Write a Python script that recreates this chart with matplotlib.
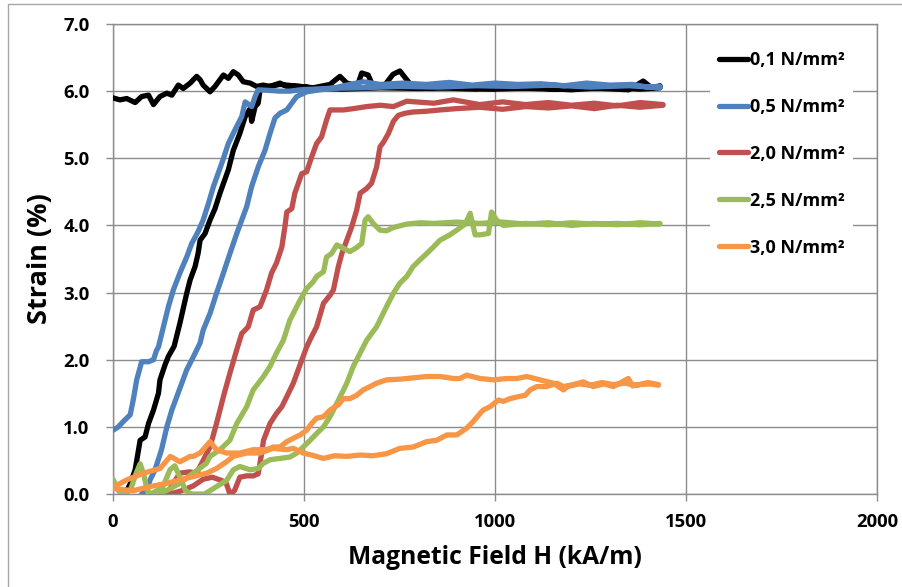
import matplotlib
matplotlib.use("Agg")
import matplotlib.pyplot as plt
from matplotlib.patches import Rectangle
from matplotlib.ticker import FormatStrFormatter

plt.rcParams['font.family'] = ['Open Sans', 'DejaVu Sans']
plt.rcParams['font.weight'] = 'bold'

# 0,1 N/mm² : rising branch, then return branch
h_01_up = [31, 45, 58, 71, 84, 93, 106, 119, 123, 136, 145, 160, 175, 193, 202, 215, 223, 228, 241, 254,
           267, 280, 302, 315, 332, 346, 359, 363, 372, 380, 385, 400, 437, 490, 524, 568, 594, 612, 640, 651,
           668, 681, 710, 733, 751, 769, 786, 850, 950, 1050, 1150, 1250, 1350, 1388, 1410, 1432]
s_01_up = [0.0, 0.15, 0.36, 0.80, 0.85, 1.05, 1.25, 1.50, 1.70, 1.92, 2.05, 2.20, 2.54, 2.99, 3.19, 3.39, 3.59, 3.78, 3.88, 4.08,
           4.25, 4.48, 4.83, 5.12, 5.37, 5.62, 5.74, 5.55, 5.77, 5.82, 6.02, 6.06, 6.10, 6.07, 6.05, 6.10, 6.22, 6.12, 6.08, 6.27,
           6.24, 6.07, 6.08, 6.25, 6.30, 6.17, 6.05, 6.05, 6.03, 6.05, 6.03, 6.05, 6.02, 6.15, 6.05, 6.08]
h_01_down = [1432, 1380, 1300, 1200, 1100, 1000, 900, 800, 700, 600, 520, 490, 455, 437, 411, 393, 376, 359, 341, 328,
             315, 302, 289, 267, 254, 236, 228, 219, 202, 184, 171, 154, 141, 123, 106, 93, 75, 58, 36, 18, 0]
s_01_down = [6.05, 6.03, 6.06, 6.02, 6.05, 6.03, 6.06, 6.04, 6.05, 6.03, 6.05, 6.07, 6.07, 6.12, 6.07, 6.09, 6.07, 6.12, 6.14, 6.24,
             6.29, 6.19, 6.24, 6.07, 5.99, 6.09, 6.17, 6.22, 6.12, 6.04, 6.09, 5.94, 5.97, 5.92, 5.80, 5.94, 5.92, 5.83, 5.89, 5.87, 5.90]

# 0,5 N/mm²
h_05_up = [75, 90, 97, 110, 127, 141, 154, 167, 180, 193, 210, 228, 236, 254, 271, 289, 306, 324, 337, 350,
           363, 380, 398, 411, 424, 437, 455, 468, 481, 507, 542, 580, 612, 655, 700, 760, 820, 880, 940, 1000,
           1060, 1120, 1180, 1240, 1300, 1360, 1400, 1432]
s_05_up = [0.0, 0.08, 0.21, 0.36, 0.66, 1.00, 1.25, 1.45, 1.65, 1.85, 2.04, 2.25, 2.44, 2.69, 2.99, 3.29, 3.58, 3.88, 4.08, 4.28,
           4.58, 4.87, 5.12, 5.37, 5.60, 5.67, 5.72, 5.82, 5.92, 5.99, 6.02, 6.05, 6.09, 6.14, 6.10, 6.12, 6.10, 6.13, 6.09, 6.12,
           6.10, 6.11, 6.08, 6.12, 6.09, 6.10, 6.06, 6.07]
h_05_down = [1432, 1350, 1250, 1150, 1050, 950, 850, 750, 650, 560, 490, 463, 437, 411, 380, 372, 363, 346, 337, 319,
             302, 285, 263, 250, 236, 223, 206, 193, 175, 158, 145, 132, 119, 114, 106, 93, 75, 62, 53, 45,
             27, 14, 0]
s_05_down = [6.05, 6.08, 6.06, 6.09, 6.07, 6.08, 6.06, 6.07, 6.05, 6.04, 6.02, 6.00, 6.00, 6.01, 6.02, 5.92, 5.77, 5.84, 5.62, 5.42,
             5.22, 4.93, 4.58, 4.33, 4.08, 3.91, 3.73, 3.53, 3.29, 3.04, 2.79, 2.49, 2.19, 2.14, 2.00, 1.97, 1.97, 1.70, 1.40, 1.18,
             1.08, 1.00, 0.95]

# 2,0 N/mm²
h_20_up = [150, 180, 210, 236, 260, 285, 297, 306, 318, 332, 350, 367, 380, 389, 394, 411, 428, 442, 455, 472,
           490, 507, 516, 533, 551, 568, 577, 590, 599, 612, 625, 638, 647, 664, 677, 690, 699, 708, 721, 734,
           747, 764, 786, 820, 856, 900, 960, 1020, 1080, 1140, 1200, 1260, 1320, 1380, 1440]
s_20_up = [0.0, 0.05, 0.12, 0.22, 0.25, 0.20, 0.15, 0.0, 0.05, 0.25, 0.27, 0.27, 0.30, 0.60, 0.80, 1.05, 1.20, 1.30, 1.45, 1.65,
           1.93, 2.19, 2.30, 2.49, 2.84, 2.96, 3.04, 3.39, 3.58, 3.78, 3.98, 4.23, 4.48, 4.55, 4.63, 4.87, 5.17, 5.24, 5.37, 5.55,
           5.64, 5.67, 5.69, 5.70, 5.72, 5.74, 5.76, 5.73, 5.77, 5.75, 5.78, 5.74, 5.79, 5.76, 5.79]
h_20_down = [1440, 1380, 1320, 1260, 1200, 1140, 1080, 1020, 960, 891, 840, 769, 734, 700, 664, 630, 603, 568, 559, 546,
             533, 520, 507, 494, 476, 468, 455, 450, 442, 428, 415, 402, 385, 367, 354, 337, 324, 306, 289, 271,
             254, 245, 236, 219, 200, 175, 158, 141, 120]
s_20_down = [5.80, 5.83, 5.78, 5.82, 5.79, 5.83, 5.80, 5.84, 5.80, 5.87, 5.82, 5.85, 5.77, 5.79, 5.77, 5.74, 5.72, 5.72, 5.57, 5.32,
             5.22, 5.02, 4.80, 4.77, 4.48, 4.25, 4.20, 3.98, 3.68, 3.44, 3.29, 3.04, 2.79, 2.74, 2.49, 2.39, 2.15, 1.80, 1.45, 1.05,
             0.70, 0.60, 0.50, 0.31, 0.33, 0.31, 0.16, 0.0, 0.0]

# 2,5 N/mm²
h_25_up = [0, 10, 20, 45, 60, 71, 80, 90, 100, 130, 149, 162, 175, 190, 205, 240, 271, 297, 315, 332,
           359, 380, 394, 411, 437, 463, 481, 498, 516, 533, 551, 568, 586, 599, 612, 629, 647, 664, 690, 716,
           734, 751, 769, 786, 804, 821, 839, 856, 882, 900, 922, 935, 948, 961, 983, 991, 1004, 1022, 1080, 1140,
           1200, 1260, 1320, 1380, 1432]
s_25_up = [0.22, 0.10, 0.0, 0.05, 0.30, 0.45, 0.30, 0.05, 0.0, 0.10, 0.36, 0.42, 0.25, 0.05, 0.0, 0.0, 0.11, 0.20, 0.36, 0.41,
           0.36, 0.38, 0.46, 0.51, 0.53, 0.55, 0.61, 0.70, 0.80, 0.90, 1.00, 1.15, 1.35, 1.50, 1.65, 1.90, 2.10, 2.29, 2.49, 2.79,
           2.99, 3.14, 3.24, 3.39, 3.49, 3.58, 3.68, 3.78, 3.86, 3.93, 4.02, 4.18, 3.86, 3.86, 3.88, 4.20, 4.08, 4.00, 4.03, 4.01,
           4.04, 4.02, 4.03, 4.01, 4.03]
h_25_down = [1432, 1380, 1320, 1260, 1200, 1140, 1080, 1020, 960, 900, 840, 804, 769, 734, 716, 699, 681, 668, 660, 651,
             635, 620, 603, 586, 572, 559, 551, 533, 524, 507, 490, 463, 446, 428, 411, 394, 367, 350, 324, 306,
             280, 254, 245, 210, 175, 140, 106]
s_25_down = [4.02, 4.04, 4.01, 4.03, 4.00, 4.04, 4.02, 4.05, 4.03, 4.05, 4.03, 4.04, 4.02, 3.97, 3.92, 3.93, 4.03, 4.13, 4.08, 3.73,
             3.66, 3.61, 3.66, 3.71, 3.58, 3.53, 3.31, 3.24, 3.16, 3.06, 2.89, 2.59, 2.29, 2.10, 1.90, 1.75, 1.55, 1.30, 1.05, 0.80,
             0.66, 0.56, 0.46, 0.31, 0.16, 0.05, 0.0]

# 3,0 N/mm²
h_30_up = [0, 53, 97, 141, 175, 210, 245, 271, 297, 315, 350, 385, 419, 455, 472, 498, 520, 551, 580, 612,
           647, 680, 716, 751, 786, 821, 847, 874, 900, 926, 943, 961, 969, 987, 1009, 1022, 1039, 1061, 1079, 1092,
           1109, 1135, 1162, 1179, 1205, 1231, 1257, 1285, 1310, 1349, 1360, 1380, 1406, 1428]
s_30_up = [0.08, 0.05, 0.11, 0.16, 0.21, 0.26, 0.31, 0.38, 0.48, 0.56, 0.61, 0.61, 0.68, 0.66, 0.68, 0.61, 0.58, 0.53, 0.57, 0.56,
           0.58, 0.57, 0.60, 0.68, 0.70, 0.78, 0.80, 0.88, 0.88, 0.98, 1.08, 1.20, 1.25, 1.30, 1.40, 1.38, 1.42, 1.45, 1.47, 1.55,
           1.60, 1.60, 1.65, 1.60, 1.63, 1.67, 1.60, 1.64, 1.60, 1.72, 1.61, 1.63, 1.64, 1.62]
h_30_down = [1428, 1400, 1370, 1340, 1310, 1280, 1250, 1220, 1190, 1179, 1153, 1118, 1083, 1057, 1030, 996, 961, 926, 908, 891,
             856, 821, 786, 751, 716, 690, 673, 655, 638, 620, 603, 590, 568, 551, 533, 520, 507, 490, 472, 455,
             437, 420, 402, 385, 367, 332, 315, 297, 271, 254, 245, 228, 210, 202, 175, 160, 150, 123, 80, 36, 0]
s_30_down = [1.63, 1.66, 1.62, 1.65, 1.63, 1.66, 1.62, 1.64, 1.60, 1.55, 1.65, 1.70, 1.75, 1.72, 1.72, 1.70, 1.72, 1.77, 1.72, 1.72,
             1.75, 1.75, 1.73, 1.71, 1.70, 1.65, 1.60, 1.55, 1.47, 1.42, 1.42, 1.33, 1.25, 1.15, 1.13, 1.05, 0.95, 0.88, 0.83, 0.78,
             0.70, 0.70, 0.66, 0.66, 0.66, 0.61, 0.61, 0.61, 0.66, 0.78, 0.72, 0.61, 0.56, 0.56, 0.48, 0.53, 0.56, 0.38, 0.31, 0.21, 0.10]

labels = ['0,1 N/mm²', '0,5 N/mm²', '2,0 N/mm²', '2,5 N/mm²', '3,0 N/mm²']
colors = ['#000000', '#4F81BD', '#C0504D', '#9BBB59', '#F79646']

series = [
    (h_01_up + h_01_down, s_01_up + s_01_down),
    (h_05_up + h_05_down, s_05_up + s_05_down),
    (h_20_up + h_20_down, s_20_up + s_20_down),
    (h_25_up + h_25_down, s_25_up + s_25_down),
    (h_30_up + h_30_down, s_30_up + s_30_down),
]

fig = plt.figure(figsize=(9.03, 5.87), dpi=100)
ax = fig.add_axes([113 / 903, 93 / 587, 764 / 903, 470 / 587])

# outer chart frame
fig.patches.append(Rectangle((8 / 903, -0.1), 1.2, 1.1 - 4 / 587, transform=fig.transFigure,
                             fill=False, edgecolor='#a6a6a6', lw=1.0, zorder=0))

grid_c = '#8c8c8c'
for (h, s), lab, c in zip(series, labels, colors):
    ax.plot(h, s, color=c, lw=3.8, label=lab, solid_joinstyle='round', solid_capstyle='round', zorder=3)

ax.set_xlim(0, 2000)
ax.set_ylim(0, 7)
ax.set_xticks([0, 500, 1000, 1500, 2000])
ax.set_yticks([0, 1, 2, 3, 4, 5, 6, 7])
ax.yaxis.set_major_formatter(FormatStrFormatter('%.1f'))
ax.grid(True, color=grid_c, lw=1.0, zorder=0)
ax.set_axisbelow(True)
for sp in ax.spines.values():
    sp.set_color(grid_c)
    sp.set_linewidth(1.0)
ax.tick_params(axis='both', colors=grid_c, length=5, width=1.0, labelcolor='black', labelsize=13.3)
ax.tick_params(axis='x', pad=9)
ax.tick_params(axis='y', pad=12)

ax.set_xlabel('Magnetic Field H (kA/m)', fontsize=17.7, fontweight='bold', labelpad=10)
ax.set_ylabel('Strain (%)', fontsize=19.5, fontweight='bold', labelpad=7)

leg = ax.legend(loc='upper left', bbox_to_anchor=((710 - 113) / 764, (494 - 42) / 470),
                borderaxespad=0, frameon=True, fancybox=False, handlelength=1.6,
                handletextpad=0.1, labelspacing=1.6, fontsize=13, borderpad=0.5)
leg.get_frame().set_facecolor('white')
leg.get_frame().set_edgecolor('none')
leg.get_frame().set_alpha(1.0)
for line in leg.get_lines():
    line.set_linewidth(3.8)

fig.savefig('out.png', dpi=100)
